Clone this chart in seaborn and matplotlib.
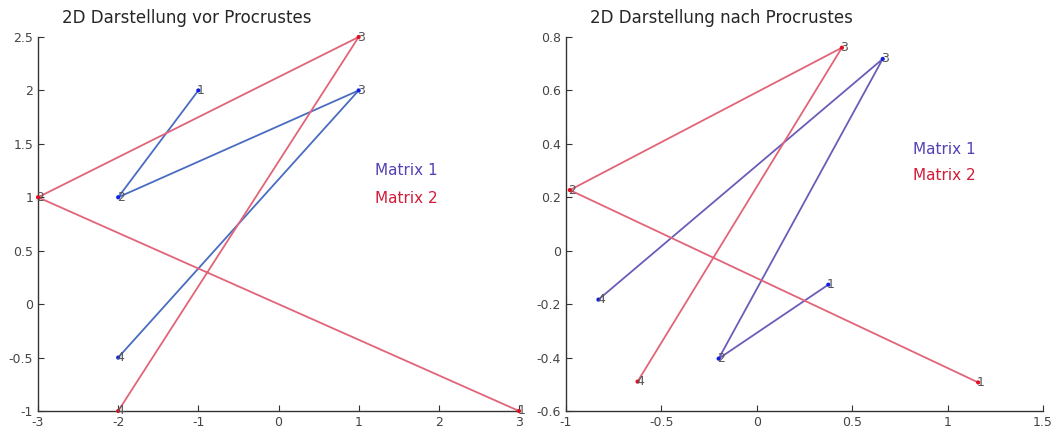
import numpy as np
import pandas as pd
import matplotlib
matplotlib.use('Agg')
import matplotlib.pyplot as plt
import seaborn as sns

# point order 1..4 for both matrices
labels = ['1', '2', '3', '4']

# before procrustes
m1_vor_x = [-1, -2, 1, -2]
m1_vor_y = [2, 1, 2, -0.5]
m2_vor_x = [3, -3, 1, -2]
m2_vor_y = [-1, 1, 2.5, -1]

# after procrustes
m1_nach_x = [0.375, -0.20, 0.66, -0.83]
m1_nach_y = [-0.127, -0.404, 0.718, -0.183]
m2_nach_x = [1.16, -0.98, 0.446, -0.625]
m2_nach_y = [-0.493, 0.227, 0.76, -0.49]

sns.set_style('white')
plt.rcParams['font.family'] = ['DejaVu Sans']

fig = plt.figure(figsize=(10.53, 4.32), dpi=100)
ax1 = fig.add_axes([38/1053, 21/432, 481/1053, 374/432])
ax2 = fig.add_axes([566/1053, 21/432, 477/1053, 374/432])


def draw(ax, xs1, ys1, xs2, ys2, c1, title, xlim, ylim, xt, yt, legpos):
    d1 = pd.DataFrame({'x': xs1, 'y': ys1})
    d2 = pd.DataFrame({'x': xs2, 'y': ys2})
    sns.lineplot(data=d1, x='x', y='y', sort=False, estimator=None, color=c1,
                 lw=1.3, ax=ax)
    sns.lineplot(data=d2, x='x', y='y', sort=False, estimator=None, color='#e26478',
                 lw=1.3, ax=ax)
    sns.scatterplot(data=d1, x='x', y='y', color='#1020e0', s=9, edgecolor='none',
                    ax=ax, zorder=3, clip_on=False)
    sns.scatterplot(data=d2, x='x', y='y', color='#e01020', s=9, edgecolor='none',
                    ax=ax, zorder=3, clip_on=False)
    for d in (d1, d2):
        for lab, x, y in zip(labels, d['x'], d['y']):
            ax.annotate(lab, (x, y), xytext=(-1, 0), textcoords='offset points',
                        fontsize=9, color='#555555', ha='left', va='center',
                        annotation_clip=False)
    lx, ly1, ly2 = legpos
    ax.text(lx, ly1, 'Matrix 1', transform=ax.transAxes, color='#5540b4',
            fontsize=11, va='center')
    ax.text(lx, ly2, 'Matrix 2', transform=ax.transAxes, color='#d21c38',
            fontsize=11, va='center')
    ax.set_xlim(xlim)
    ax.set_ylim(ylim)
    ax.set_xticks(xt)
    ax.set_yticks(yt)
    ax.set_xticklabels([f'{v:g}' for v in xt])
    ax.set_yticklabels([f'{v:g}' for v in yt])
    ax.set_xlabel('')
    ax.set_ylabel('')
    ax.set_title(title, fontsize=12, pad=10, loc='left', x=0.05)
    sns.despine(ax=ax)
    for s in ('left', 'bottom'):
        ax.spines[s].set_color('#333333')
        ax.spines[s].set_linewidth(1.0)
    ax.tick_params(direction='in', length=4, width=0.8, colors='#333333',
                   labelcolor='#444444', labelsize=9, left=True, bottom=True)


draw(ax1, m1_vor_x, m1_vor_y, m2_vor_x, m2_vor_y, '#4a6cc0',
     '2D Darstellung vor Procrustes', (-3, 3), (-1, 2.5),
     [-3, -2, -1, 0, 1, 2, 3], [-1, -0.5, 0, 0.5, 1, 1.5, 2, 2.5],
     (0.70, 0.644, 0.567))
draw(ax2, m1_nach_x, m1_nach_y, m2_nach_x, m2_nach_y, '#6a5cb8',
     '2D Darstellung nach Procrustes', (-1, 1.5), (-0.6, 0.8),
     [-1, -0.5, 0, 0.5, 1, 1.5], [-0.6, -0.4, -0.2, 0, 0.2, 0.4, 0.6, 0.8],
     (0.727, 0.698, 0.631))

fig.savefig('out.png', dpi=100)
